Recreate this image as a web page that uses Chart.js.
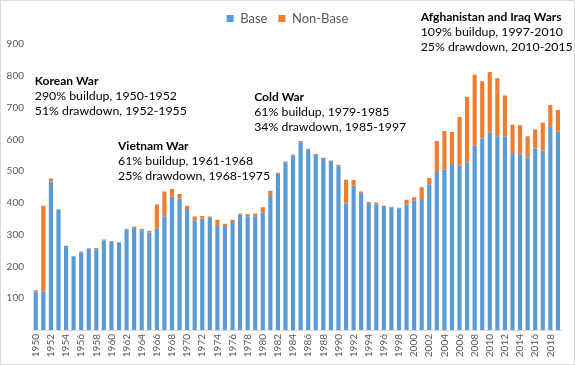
<!DOCTYPE html>
<html>
<head>
<meta charset="utf-8">
<script src="https://cdn.jsdelivr.net/npm/chart.js@4.4.1/dist/chart.umd.min.js"></script>
<style>
  html, body { margin: 0; padding: 0; background: #fff; }
  #wrap { width: 575px; height: 365px; box-sizing: border-box; border: 1px solid #d9d9d9; }
</style>
</head>
<body>
<div id="wrap"><canvas id="myChart" width="573" height="363"></canvas></div>
<script>
// data
const years = [];
for (let y = 1950; y <= 2019; y++) years.push(String(y));

const baseVals = [122,120,467,379,264,232,244,257,254,282,278,275,316,321,314,307,319,358,420,414,
  378,344,350,353,327,327,340,363,358,358,370,422,492,528,549,591,567,551,541,532,
  515,397,454,430,400,395,390,386,383,395,407,409,457,497,504,522,517,527,580,603,
  622,610,608,556,553,543,571,565,641,624];
const nonBaseVals = [3,271,10,1,1,0,3,0,4,3,2,2,3,4,5,5,76,78,24,14,
  13,13,9,4,20,7,7,4,7,9,16,16,3,2,3,4,3,3,1,1,
  5,76,18,6,3,6,1,2,2,15,11,40,21,98,122,101,153,206,223,180,
  190,182,130,90,91,67,60,87,67,68];

const annotations = [
  { year: 0, value: 783, title: "Korean War", lines: ["290% buildup, 1950-1952", "51% drawdown, 1952-1955"] },
  { year: 11, value: 579, title: "Vietnam War", lines: ["61% buildup, 1961-1968", "25% drawdown, 1968-1975"] },
  { year: 29, value: 733, title: "Cold War", lines: ["61% buildup, 1979-1985", "34% drawdown, 1985-1997"] },
  { year: 51, value: 984, title: "Afghanistan and Iraq Wars", lines: ["109% buildup, 1997-2010", "25% drawdown, 2010-2015"] }
];

const FONT = "Lato, 'Noto Sans', sans-serif";

const notesPlugin = {
  id: 'notes',
  afterDraw(chart) {
    const ctx = chart.ctx;
    const xs = chart.scales.x, ys = chart.scales.y;
    ctx.save();
    ctx.fillStyle = '#000';
    ctx.textAlign = 'left';
    ctx.textBaseline = 'middle';
    annotations.forEach(a => {
      const x = xs.getPixelForValue(a.year) - 1;
      const y = ys.getPixelForValue(a.value);
      ctx.font = "bold 12px " + FONT;
      ctx.fillText(a.title, x, y);
      ctx.font = "12.3px " + FONT;
      a.lines.forEach((l, i) => ctx.fillText(l, x, y + 15 * (i + 1)));
    });
    ctx.restore();
  }
};

// empty strip scales used as spacers
function spacer(pos, size) {
  return {
    type: 'category',
    position: pos,
    grid: { display: false, drawTicks: false },
    border: { display: false },
    ticks: { display: false },
    afterFit: function(s) {
      if (pos === 'top') s.height = size; else s.width = size;
    }
  };
}

const ctx = document.getElementById('myChart');
const myChart = new Chart(ctx, {
  type: 'bar',
  data: {
    labels: years,
    datasets: [{
      label: 'Base',
      data: baseVals,
      xAxisID: 'x', yAxisID: 'y',
      backgroundColor: '#5b9bd5',
      barPercentage: 0.55,
      categoryPercentage: 1
    }, {
      label: 'Non-Base',
      data: nonBaseVals,
      xAxisID: 'x', yAxisID: 'y',
      backgroundColor: '#ed7d31',
      barPercentage: 0.55,
      categoryPercentage: 1
    }]
  },
  options: {
    responsive: false,
    maintainAspectRatio: false,
    animation: false,
    layout: { padding: { left: 0, right: 0, top: 0, bottom: 4 } },
    plugins: {
      tooltip: { enabled: false },
      legend: {
        position: 'top',
        labels: {
          boxWidth: 7, boxHeight: 7, padding: 11,
          color: '#595959',
          font: { family: FONT, size: 13 }
        }
      }
    },
    scales: {
      x: {
        stacked: true,
        grid: { display: false, drawTicks: false },
        border: { color: '#d9d9d9' },
        ticks: {
          autoSkip: false, maxRotation: 90, minRotation: 90, padding: 4,
          color: '#595959', font: { family: FONT, size: 10 },
          callback: function(v, i) { return i % 2 === 0 ? years[i] : ''; }
        },
        afterFit: function(s) { s.height = 30; }
      },
      y: {
        stacked: true,
        min: 0, max: 900,
        grid: { display: false, drawTicks: false },
        border: { display: false },
        ticks: {
          stepSize: 100, padding: 8,
          color: '#595959', font: { family: FONT, size: 10 },
          callback: function(v) { return v === 0 ? '' : v; }
        },
        afterFit: function(s) { s.width = 31; }
      },
      gapTop: spacer('top', 9),
      gapRight: spacer('right', 11)
    }
  },
  plugins: [notesPlugin]
});
</script>
</body>
</html>
